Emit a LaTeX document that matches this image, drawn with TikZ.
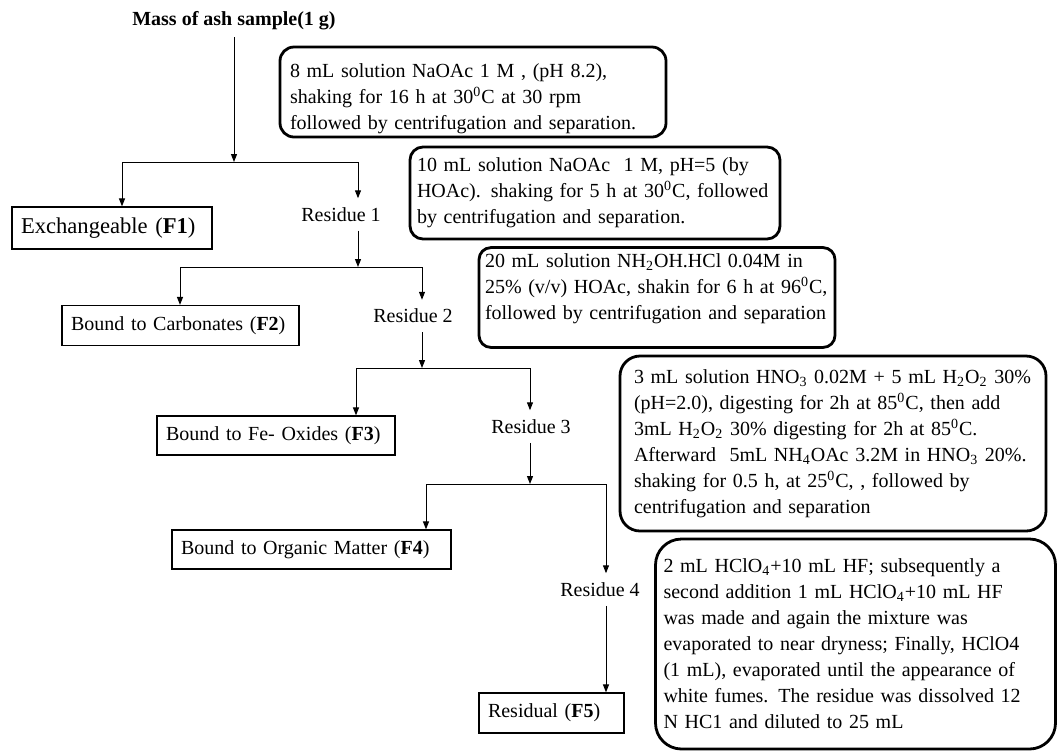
\documentclass[tikz,border=0pt]{standalone}
\usepackage{fontspec}
\setmainfont{Liberation Serif}
\usetikzlibrary{arrows.meta,positioning}

\begin{document}
\hyphenpenalty=10000
\exhyphenpenalty=10000
\begin{tikzpicture}[
    x=0.5pt, y=-0.5pt,
    stepbox/.style={draw, line width=1.4pt, rounded corners=7pt, align=left, inner ysep=3pt, font=\fontsize{10}{13}\selectfont},
    fraction/.style={draw, line width=0.6pt, align=left, inner xsep=4.5pt, inner ysep=0pt, minimum height=20pt, font=\fontsize{10}{12}\selectfont},
    residue/.style={inner xsep=1pt, inner ysep=4.4pt, font=\fontsize{10}{12}\selectfont},
    arrow/.style={-{Triangle[length=4pt,width=3pt]}, line width=0.5pt},
    link/.style={line width=0.5pt}
]
\useasboundingbox (0,0) rectangle (1059,752);

% Sample
\node[font=\bfseries\fontsize{10}{12}\selectfont] (mass) at (234,21) {Mass of ash sample(1 g)};

% Extraction steps
\node[stepbox, inner xsep=5pt, inner ysep=1.5pt, text width=183pt, text height=13.5pt, minimum height=45pt] (stepA) at (473,92)
  {8 mL solution NaOAc 1 M , (pH 8.2),\\
   shaking for 16 h at 30\textsuperscript{0}C at 30 rpm\\
   followed by centrifugation and separation.};
\node[stepbox, inner xsep=3.5pt, text width=178pt, minimum height=46pt, rounded corners=6.5pt] (stepB) at (595,193)
  {10 mL solution NaOAc\ \ 1 M, pH=5 (by\\
   HOAc). shaking for 5 h at 30\textsuperscript{0}C, followed\\
   by centrifugation and separation.};
\node[stepbox, inner xsep=3pt, text width=172pt, text depth=37pt, rounded corners=6pt] (stepC) at (657,297.5)
  {20 mL solution NH\textsubscript{2}OH.HCl 0.04M in\\
   25\% (v/v) HOAc, shakin for 6 h at 96\textsuperscript{0}C,\\
   followed by centrifugation and separation};
\node[stepbox, inner xsep=7pt, text width=199pt, minimum height=87.5pt, rounded corners=10pt] (stepD) at (833,443.5)
  {3 mL solution HNO\textsubscript{3} 0.02M + 5 mL H\textsubscript{2}O\textsubscript{2} 30\%\\
   (pH=2.0), digesting for 2h at 85\textsuperscript{0}C, then add\\
   3mL H\textsubscript{2}O\textsubscript{2} 30\% digesting for 2h at 85\textsuperscript{0}C.\\
   Afterward\ \ 5mL NH\textsubscript{4}OAc 3.2M in HNO\textsubscript{3} 20\%.\\
   shaking for 0.5 h, at 25\textsuperscript{0}C, , followed by\\
   centrifugation and separation};
\node[stepbox, inner xsep=4pt, text width=192pt, minimum height=105pt, rounded corners=13pt] (stepE) at (855.5,644)
  {2 mL HClO\textsubscript{4}+10 mL HF; subsequently a\\
   second addition 1 mL HClO\textsubscript{4}+10 mL HF\\
   was made and again the mixture was\\
   evaporated to near dryness; Finally, HClO4\\
   (1 mL), evaporated until the appearance of\\
   white fumes. The residue was dissolved 12\\
   N HC1 and diluted to 25 mL};

% Fractions
\node[fraction, text width=91pt, minimum height=21pt, font=\fontsize{11.3}{13}\selectfont] (f1) at (112,228) {Exchangeable (\textbf{F1})};
\node[fraction, text width=109.5pt] (f2) at (180.5,325.5) {Bound to Carbonates\ (\textbf{F2})};
\node[fraction, text width=110pt, minimum height=19.5pt] (f3) at (276,435.5) {Bound to Fe- Oxides\ (\textbf{F3})};
\node[fraction, text width=130.5pt, minimum height=19.5pt] (f4) at (311.5,549.5) {Bound to Organic Matter (\textbf{F4})};
\node[fraction, text width=63.5pt] (f5) at (551.5,713) {Residual (\textbf{F5})};

% Residues
\node[residue] (r1) at (341,214.5) {Residue 1};
\node[residue] (r2) at (413,316) {Residue 2};
\node[residue] (r3) at (531,426.5) {Residue 3};
\node[residue] (r4) at (600,589.5) {Residue 4};

% Split points
\coordinate (s1l) at (122,162); \coordinate (s1r) at (358,162);
\coordinate (s2l) at (180,267); \coordinate (s2r) at (422,267);
\coordinate (s3l) at (356,368); \coordinate (s3r) at (530,368);
\coordinate (s4l) at (426,484); \coordinate (s4r) at (606,484);

% Step 1
\draw[arrow] (mass) -- (mass |- s1l);
\draw[link] (s1l) -- (s1r);
\draw[arrow] (s1l) -- (s1l |- f1.north);
\draw[arrow] (s1r) -- (s1r |- r1.north);
\draw[arrow] (s1r |- r1.south) -- (s1r |- s2l);

% Step 2
\draw[link] (s2l) -- (s2r);
\draw[arrow] (s2l) -- (s2l |- f2.north);
\draw[arrow] (s2r) -- (s2r |- r2.north);
\draw[arrow] (s2r |- r2.south) -- (s2r |- s3l);

% Step 3
\draw[link] (s3l) -- (s3r);
\draw[arrow] (s3l) -- (s3l |- f3.north);
\draw[arrow] (s3r) -- (s3r |- r3.north);
\draw[arrow] (s3r |- r3.south) -- (s3r |- s4l);

% Step 4
\draw[link] (s4l) -- (s4r);
\draw[arrow] (s4l) -- (s4l |- f4.north);
\draw[arrow] (s4r) -- (s4r |- r4.north);
\draw[arrow] (s4r |- r4.south) -- (s4r |- f5.north);

\end{tikzpicture}
\end{document}
